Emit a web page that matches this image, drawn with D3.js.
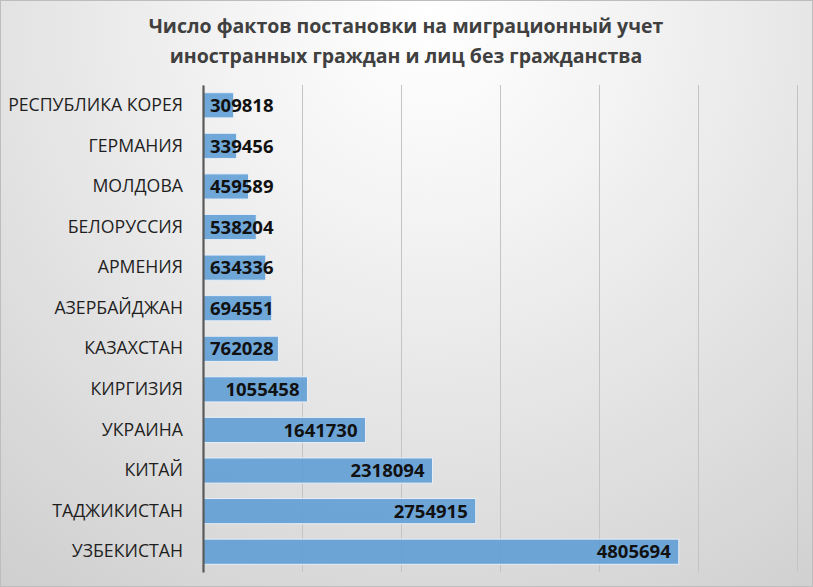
<!DOCTYPE html>
<html>
<head>
<meta charset="utf-8">
<script src="https://cdn.jsdelivr.net/npm/d3@7"></script>
<style>
  html, body { margin: 0; padding: 0; background: #fff; }
  svg { display: block; }
</style>
</head>
<body>
<div id="chart"></div>
<script>
// данные
var countries = ["РЕСПУБЛИКА КОРЕЯ", "ГЕРМАНИЯ", "МОЛДОВА", "БЕЛОРУССИЯ", "АРМЕНИЯ", "АЗЕРБАЙДЖАН",
  "КАЗАХСТАН", "КИРГИЗИЯ", "УКРАИНА", "КИТАЙ", "ТАДЖИКИСТАН", "УЗБЕКИСТАН"];
var values = [309818, 339456, 459589, 538204, 634336, 694551,
  762028, 1055458, 1641730, 2318094, 2754915, 4805694];
var titleLines = ["Число фактов постановки на миграционный учет",
  "иностранных граждан и лиц без гражданства"];
var xMax = 6000000;

var w = 813, h = 587;
var plotLeft = 203, plotRight = 797, plotTop = 85, plotBottom = 572;

var svg = d3.select("#chart").append("svg")
  .attr("width", w)
  .attr("height", h);

// фон с радиальным градиентом
var defs = svg.append("defs");
var grad = defs.append("radialGradient")
  .attr("id", "bg")
  .attr("gradientUnits", "userSpaceOnUse")
  .attr("cx", 430).attr("cy", 20)
  .attr("r", 760);
grad.append("stop").attr("offset", "0%").attr("stop-color", "#ffffff");
grad.append("stop").attr("offset", "25%").attr("stop-color", "#f4f4f4");
grad.append("stop").attr("offset", "100%").attr("stop-color", "#cbcbcb");

svg.append("rect")
  .attr("width", w).attr("height", h)
  .attr("fill", "url(#bg)");
svg.append("rect")
  .attr("x", 0.5).attr("y", 0.5)
  .attr("width", w - 1).attr("height", h - 1)
  .attr("fill", "none")
  .attr("stroke", "#bdbdbd");

// шкалы
var xScale = d3.scaleLinear().domain([0, xMax]).range([plotLeft, plotRight]);
var yScale = d3.scaleBand().domain(countries).range([plotTop, plotBottom]).paddingInner(0.38).paddingOuter(0.19);

// сетка
svg.append("g")
  .attr("transform", "translate(0," + plotBottom + ")")
  .call(d3.axisBottom(xScale).ticks(6).tickSize(-(plotBottom - plotTop)).tickFormat(""))
  .call(function(g) {
    g.select(".domain").remove();
    g.selectAll("line").attr("stroke", "#c4c4c4").attr("stroke-width", 1);
  });

// столбцы
svg.append("g").selectAll("rect")
  .data(values)
  .enter()
  .append("rect")
  .attr("x", xScale(0))
  .attr("y", function(d, i) { return yScale(countries[i]); })
  .attr("width", function(d) { return xScale(d) - xScale(0); })
  .attr("height", yScale.bandwidth())
  .attr("fill", "#5b9bd5")
  .attr("fill-opacity", 0.86)
  .attr("stroke", "#e8eef6")
  .attr("stroke-width", 1);

// ось категорий
var yAxis = svg.append("g")
  .attr("transform", "translate(" + plotLeft + ",0)")
  .call(d3.axisLeft(yScale).tickSize(0).tickPadding(20));
yAxis.select(".domain").attr("stroke", "#595959").attr("stroke-width", 2.2);
yAxis.selectAll("text")
  .attr("font-family", "'Open Sans', sans-serif")
  .attr("font-size", 17.7)
  .attr("fill", "#1f1f1f");

// подписи значений
var labels = svg.append("g").selectAll("text")
  .data(values)
  .enter()
  .append("text")
  .attr("y", function(d, i) { return yScale(countries[i]) + yScale.bandwidth() / 2; })
  .attr("dy", "0.36em")
  .attr("text-anchor", "end")
  .attr("font-family", "'Open Sans', sans-serif")
  .attr("font-weight", "bold")
  .attr("font-size", 18.5)
  .attr("fill", "#111")
  .text(function(d) { return d; });
labels.attr("x", function(d) {
  var tw = this.getComputedTextLength();
  return Math.max(xScale(d) - 8, xScale(0) + 7 + tw);
});

// заголовок
svg.append("g").selectAll("text")
  .data(titleLines)
  .enter()
  .append("text")
  .attr("x", 406)
  .attr("y", function(d, i) { return 33 + i * 30; })
  .attr("text-anchor", "middle")
  .attr("font-family", "'Open Sans', sans-serif")
  .attr("font-weight", "bold")
  .attr("font-size", 19.5)
  .attr("fill", "#404040")
  .text(function(d) { return d; });
</script>
</body>
</html>
